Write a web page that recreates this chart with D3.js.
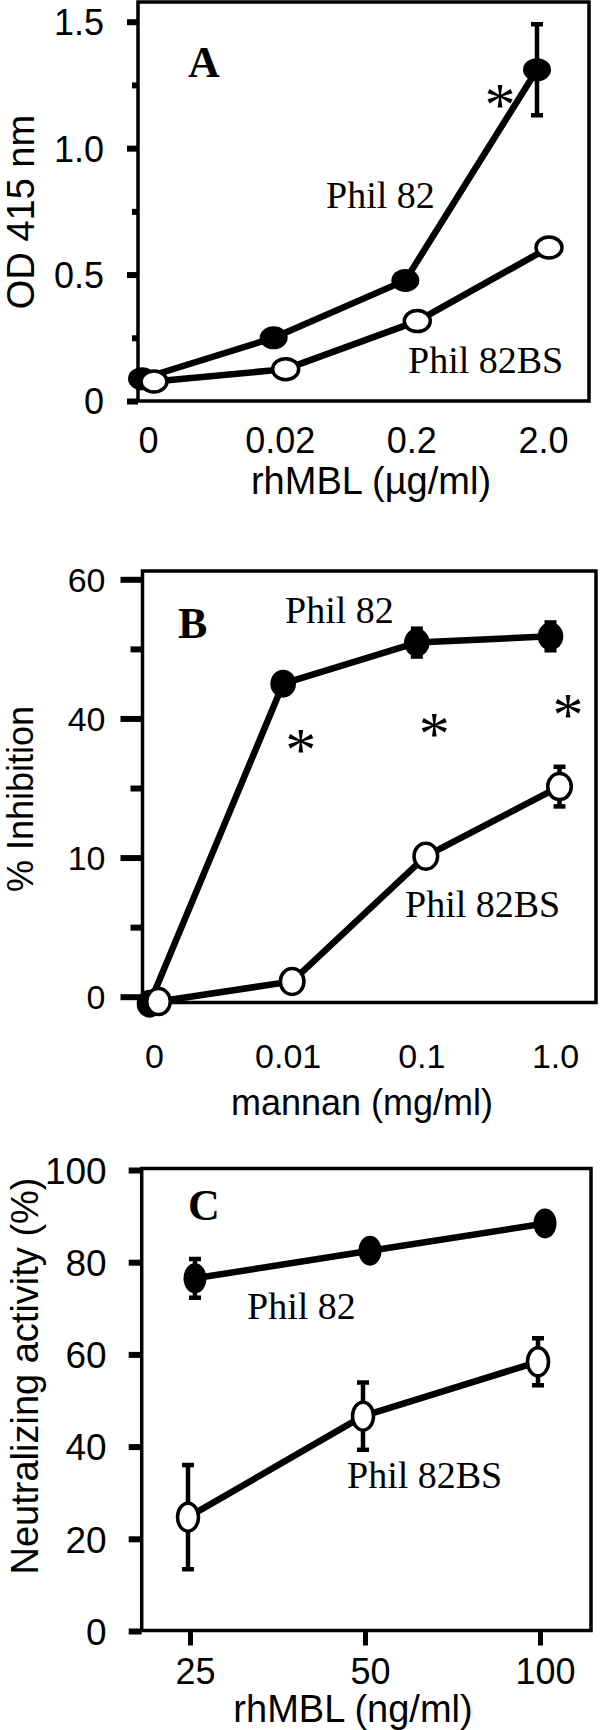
<!DOCTYPE html>
<html><head><meta charset="utf-8">
<script src="https://cdn.jsdelivr.net/npm/d3@7"></script>
<style>html,body{margin:0;padding:0;background:#fff;} svg{display:block}</style>
</head><body><svg id="chart" width="600" height="1730"></svg>
<script>
// ---------- Panel A data ----------
const catsA = ["0", "0.02", "0.2", "2.0"];
const phil82A = [0.088, 0.25, 0.477, 1.31];
const phil82ErrA = [0, 0, 0, 0.18];
const phil82bsA = [0.077, 0.126, 0.316, 0.607];
const phil82bsErrA = [0, 0, 0, 0];
const yTicksA = [0, 0.5, 1.0, 1.5];
const yTickLabelsA = ["0", "0.5", "1.0", "1.5"];
const yMinorA = [0.25, 0.75, 1.25];
const starsA = [["2.0", 1.206]];

// ---------- Panel B data ----------
const catsB = ["0", "0.01", "0.1", "1.0"];
const phil82B = [-1, 45.0, 50.9, 51.8];
const phil82ErrB = [0, 0, 2, 2];
const phil82bsB = [-0.7, 2.2, 20.2, 30.2];
const phil82bsErrB = [0, 0, 1.5, 2.85];
const yTicksB = [0, 20, 40, 60];
const yTickLabelsB = ["0", "10", "40", "60"];
const yMinorB = [10, 30, 50];
const starsB = [["0.01", 36.7], ["0.1", 39.0], ["1.0", 41.8]];

// ---------- Panel C data ----------
const dosesC = [25, 50, 100];
const doseLabelsC = ["25", "50", "100"];
const phil82C = [76.5, 82.5, 88.4];
const phil82ErrC = [4.2, 0, 0];
const phil82bsC = [24.7, 46.6, 58.4];
const phil82bsErrC = [11.3, 7.3, 5.1];
const yTicksC = [0, 20, 40, 60, 80, 100];
const yTickLabelsC = ["0", "20", "40", "60", "80", "100"];

const SANS = "'Liberation Sans', Arial, Helvetica, sans-serif";
const SERIF = "'Liberation Serif', 'Times New Roman', Times, serif";
const svg = d3.select("#chart");

function panel(cfg) {
  const g = svg.append("g");
  const f = cfg.frame;
  const y = d3.scaleLinear().domain(cfg.yDomain).range(cfg.yRange);
  const x = cfg.x;

  g.append("rect").attr("x", f.l).attr("y", f.t)
    .attr("width", f.r - f.l).attr("height", f.b - f.t)
    .attr("fill", "none").attr("stroke", "#000").attr("stroke-width", 3.5);

  // y axis (major)
  const ay = g.append("g").attr("transform", `translate(${f.l},0)`)
    .call(d3.axisLeft(y).tickValues(cfg.yTicks)
      .tickFormat((d, i) => cfg.yTickLabels[i])
      .tickSize(cfg.majorLen).tickPadding(cfg.tickPad));
  ay.attr("font-family", SANS).attr("font-size", cfg.tickFont);
  ay.select(".domain").remove();
  ay.selectAll(".tick line").attr("stroke", "#000").attr("stroke-width", 6);
  ay.selectAll(".tick text").attr("fill", "#000").attr("dy", "0.36em");

  if (cfg.yMinor) {
    const am = g.append("g").attr("transform", `translate(${f.l},0)`)
      .call(d3.axisLeft(y).tickValues(cfg.yMinor).tickFormat("").tickSize(cfg.minorLen));
    am.select(".domain").remove();
    am.selectAll(".tick line").attr("stroke", "#000").attr("stroke-width", 6);
  }

  // x axis
  const ax = g.append("g").attr("transform", `translate(0,${f.b})`)
    .call(d3.axisBottom(x).tickValues(cfg.xTicks)
      .tickFormat((d, i) => cfg.xTickLabels[i])
      .tickSize(cfg.xTickLen || 0));
  ax.attr("font-family", SANS).attr("font-size", cfg.xTickFont);
  ax.select(".domain").remove();
  if (cfg.xTickLen) ax.selectAll(".tick line").attr("stroke", "#000").attr("stroke-width", 5);
  else ax.selectAll(".tick line").remove();
  ax.selectAll(".tick text").attr("fill", "#000")
    .attr("y", cfg.xLabelBase - f.b).attr("dy", 0).attr("dx", cfg.xLabelDx || 0);

  // titles
  g.append("text").attr("x", cfg.xTitle.x).attr("y", cfg.xTitle.y)
    .attr("text-anchor", "middle").attr("font-family", SANS)
    .attr("font-size", cfg.titleFont).text(cfg.xTitle.text);
  g.append("text").attr("transform", `translate(${cfg.yTitle.x},${cfg.yTitle.y}) rotate(-90)`)
    .attr("text-anchor", "middle").attr("font-family", SANS)
    .attr("font-size", cfg.titleFont).text(cfg.yTitle.text);

  // data
  const mk = (xs, vs, es) => xs.map((c, i) => ({ c, v: vs[i], e: es[i] }));
  const filled = mk(cfg.xValues, cfg.filled, cfg.filledErr);
  const open = mk(cfg.xValues, cfg.open, cfg.openErr);
  const px = (d, dodge) => x(d.c) + dodge;
  const line = dodge => d3.line().x(d => px(d, dodge)).y(d => y(d.v));

  [[filled, cfg.dodgeF], [open, cfg.dodgeO]].forEach(([s, dg]) => {
    g.append("path").datum(s).attr("d", line(dg))
      .attr("fill", "none").attr("stroke", "#000").attr("stroke-width", 6.5)
      .attr("stroke-linejoin", "round");
  });
  [[filled, cfg.dodgeF], [open, cfg.dodgeO]].forEach(([s, dg]) => {
    const eb = g.append("g").attr("stroke", "#000").attr("stroke-width", 4.5);
    s.filter(d => d.e > 0).forEach(d => {
      const cx = px(d, dg), y1 = y(d.v + d.e), y2 = y(d.v - d.e);
      eb.append("line").attr("x1", cx).attr("x2", cx).attr("y1", y1).attr("y2", y2);
      eb.append("line").attr("x1", cx - 6).attr("x2", cx + 6).attr("y1", y1).attr("y2", y1);
      eb.append("line").attr("x1", cx - 6).attr("x2", cx + 6).attr("y1", y2).attr("y2", y2);
    });
  });
  g.selectAll(".mf").data(filled).enter().append("ellipse")
    .attr("cx", d => px(d, cfg.dodgeF)).attr("cy", d => y(d.v))
    .attr("rx", cfg.rx).attr("ry", cfg.ry).attr("fill", "#000");
  g.selectAll(".mo").data(open).enter().append("ellipse")
    .attr("cx", d => px(d, cfg.dodgeO)).attr("cy", d => y(d.v))
    .attr("rx", cfg.rx - 1).attr("ry", cfg.ry - 1)
    .attr("fill", "#fff").attr("stroke", "#000").attr("stroke-width", 3.5);

  // annotations
  g.append("text").attr("x", cfg.letter.x).attr("y", cfg.letter.y)
    .attr("font-family", SERIF).attr("font-weight", "bold").attr("font-size", 44).text(cfg.letter.text);
  g.append("text").attr("x", cfg.lab82.x).attr("y", cfg.lab82.y)
    .attr("font-family", SERIF).attr("font-size", 38).text("Phil 82");
  g.append("text").attr("x", cfg.lab82bs.x).attr("y", cfg.lab82bs.y)
    .attr("font-family", SERIF).attr("font-size", 38).text("Phil 82BS");
  (cfg.stars || []).forEach(([c, v]) => {
    g.append("text").attr("x", x(c) + cfg.starDx).attr("y", y(v) + 29)
      .attr("text-anchor", "middle").attr("font-family", SERIF).attr("font-size", 62).text("*");
  });
}

panel({
  frame: { l: 138, r: 589, t: 2, b: 401 },
  yDomain: [0, 1.5], yRange: [401, 21.7],
  yTicks: yTicksA, yTickLabels: yTickLabelsA, yMinor: yMinorA,
  majorLen: 11, minorLen: 6, tickPad: 23, tickFont: 36,
  x: d3.scalePoint().domain(catsA).range([148, 543]),
  xTicks: catsA, xTickLabels: catsA, xTickFont: 36, xLabelBase: 453,
  xValues: catsA, filled: phil82A, filledErr: phil82ErrA, open: phil82bsA, openErr: phil82bsErrA,
  dodgeF: -6, dodgeO: 6, rx: 14, ry: 11.5,
  titleFont: 38,
  xTitle: { x: 371, y: 494, text: "rhMBL (\u00b5g/ml)" },
  yTitle: { x: 34, y: 212, text: "OD 415 nm" },
  letter: { x: 188, y: 77, text: "A" },
  lab82: { x: 326, y: 208 }, lab82bs: { x: 408, y: 373 },
  stars: starsA, starDx: -43
});

panel({
  frame: { l: 142.5, r: 596, t: 571, b: 1002.5 },
  yDomain: [0, 60], yRange: [996.7, 579.3],
  yTicks: yTicksB, yTickLabels: yTickLabelsB, yMinor: yMinorB,
  majorLen: 22, minorLen: 12, tickPad: 15, tickFont: 34,
  x: d3.scalePoint().domain(catsB).range([154, 555]),
  xTicks: catsB, xTickLabels: catsB, xTickFont: 34, xLabelBase: 1068,
  xValues: catsB, filled: phil82B, filledErr: phil82ErrB, open: phil82bsB, openErr: phil82bsErrB,
  dodgeF: -4.5, dodgeO: 4.5, rx: 12.8, ry: 14,
  titleFont: 36,
  xTitle: { x: 362, y: 1115, text: "mannan (mg/ml)" },
  yTitle: { x: 33, y: 799, text: "% Inhibition" },
  letter: { x: 178, y: 638, text: "B" },
  lab82: { x: 285, y: 623 }, lab82bs: { x: 405, y: 917 },
  stars: starsB, starDx: 13
});

panel({
  frame: { l: 141.7, r: 591, t: 1168.5, b: 1630.5 },
  yDomain: [0, 100], yRange: [1631, 1170],
  yTicks: yTicksC, yTickLabels: yTickLabelsC,
  majorLen: 13, tickPad: 22, tickFont: 37,
  x: d3.scaleLog().base(2).domain([25, 100]).range([190, 540]),
  xTicks: dosesC, xTickLabels: doseLabelsC, xTickLen: 15, xTickFont: 36, xLabelBase: 1684, xLabelDx: 5,
  xValues: dosesC, filled: phil82C, filledErr: phil82ErrC, open: phil82bsC, openErr: phil82bsErrC,
  dodgeF: 5, dodgeO: -2, rx: 11.5, ry: 15,
  titleFont: 38,
  xTitle: { x: 353, y: 1722, text: "rhMBL (ng/ml)" },
  yTitle: { x: 38, y: 1376, text: "Neutralizing activity (%)" },
  letter: { x: 188, y: 1220, text: "C" },
  lab82: { x: 247, y: 1319 }, lab82bs: { x: 347, y: 1488 }
});
</script>
</body></html>
